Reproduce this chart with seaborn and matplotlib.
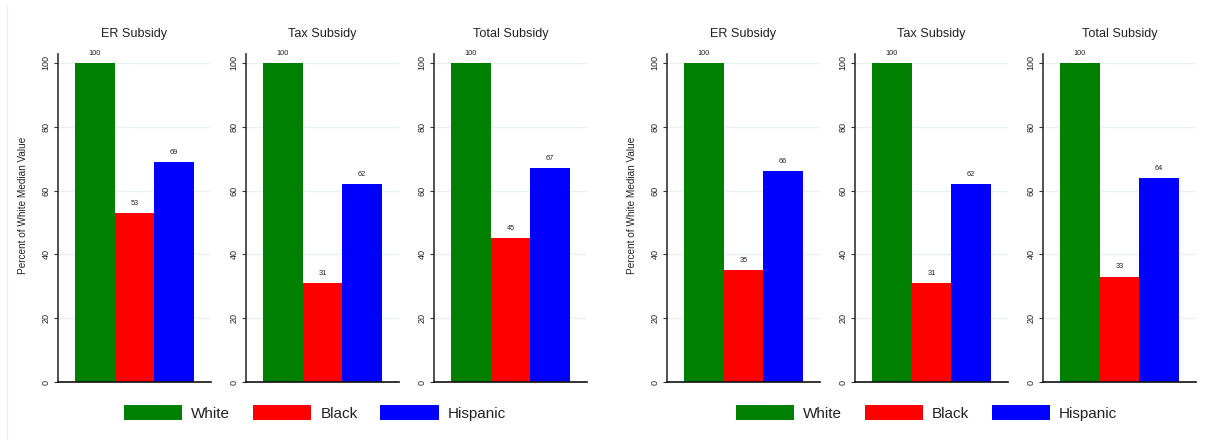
"""
Subsidy value by race, as percent of the White median - two groups of three panels.
"""

import matplotlib
matplotlib.use("Agg")
import matplotlib.pyplot as plt
from matplotlib.patches import Patch
from matplotlib.lines import Line2D
import seaborn as sns

# -- Data --------------------------------------------------------------------
RACES = ["White", "Black", "Hispanic"]
SUBSIDIES = ["ER Subsidy", "Tax Subsidy", "Total Subsidy"]

LEFT_ER = [100, 53, 69]
LEFT_TAX = [100, 31, 62]
LEFT_TOTAL = [100, 45, 67]

RIGHT_ER = [100, 35, 66]
RIGHT_TAX = [100, 31, 62]
RIGHT_TOTAL = [100, 33, 64]

Y_TICKS = [0, 20, 40, 60, 80, 100]
Y_LABEL = "Percent of White Median Value"

# -- Style ---------------------------------------------------------------------
sns.set_style("white")
plt.rcParams["font.family"] = ["Liberation Sans", "DejaVu Sans"]

COLORS = {"White": "#008000", "Black": "#ff0000", "Hispanic": "#0000ff"}
GRID = "#eaf1f2"
TEXT = "#222222"

W, H = 1206, 440
DPI = 100

# panel left edges (px) for each group, panel width / vertical extent in px
LEFT_X = [58, 246, 434]
RIGHT_X = [667, 855, 1043]
PANEL_W = 153
AX_TOP, AX_BOTTOM = 54, 382
Y_MAX = 102.8


def px_rect(x0, w):
    return [x0 / W, (H - AX_BOTTOM) / H, w / W, (AX_BOTTOM - AX_TOP) / H]


def draw_panel(fig, x0, title, values):
    ax = fig.add_axes(px_rect(x0, PANEL_W))
    sns.barplot(x=RACES, y=values, hue=RACES, palette=COLORS, order=RACES,
                width=1.0, linewidth=0, saturation=1, legend=False, ax=ax, zorder=2)
    ax.set_xlim(-0.5 - 17 / 40, 2.5 + 17 / 40)
    ax.set_ylim(0, Y_MAX)
    ax.set_yticks(Y_TICKS)
    ax.set_xticks([])
    ax.set_xlabel("")
    ax.set_ylabel("")
    ax.grid(axis="y", color=GRID, linewidth=1.0, zorder=0)
    ax.set_axisbelow(True)

    for side in ["top", "right"]:
        ax.spines[side].set_visible(False)
    ax.spines["left"].set_color("#333333")
    ax.spines["left"].set_linewidth(1.2)
    ax.spines["bottom"].set_color("#111111")
    ax.spines["bottom"].set_linewidth(1.2)

    ax.tick_params(axis="y", which="major", direction="out", length=3, width=0.8,
                   color="#333333", labelsize=6.5, labelcolor=TEXT, pad=2.5, left=True)
    for lab in ax.get_yticklabels():
        lab.set_rotation(90)
        lab.set_va("center")

    for i, v in enumerate(values):
        ax.annotate(f"{v:.0f}", xy=(i, v), xytext=(0, 4.5), textcoords="offset points",
                    ha="center", va="bottom", fontsize=5.3, color=TEXT)

    ax.set_title(title, fontsize=9.1, color=TEXT, pad=12)
    return ax


def draw_legend(fig, center_px):
    handles = [Patch(facecolor=COLORS[r], edgecolor="none") for r in RACES]
    fig.legend(handles, RACES, loc="center", ncol=3, frameon=False,
               bbox_to_anchor=(center_px / W, (H - 413) / H),
               fontsize=11, handlelength=3.8, handleheight=1.05,
               handletextpad=0.59, columnspacing=1.5,
               labelcolor=TEXT)


def main():
    fig = plt.figure(figsize=(W / DPI, H / DPI), dpi=DPI)

    left_vals = [LEFT_ER, LEFT_TAX, LEFT_TOTAL]
    right_vals = [RIGHT_ER, RIGHT_TAX, RIGHT_TOTAL]

    for xs, vals_list in [(LEFT_X, left_vals), (RIGHT_X, right_vals)]:
        for x0, title, vals in zip(xs, SUBSIDIES, vals_list):
            draw_panel(fig, x0, title, vals)
        fig.text((xs[0] - 35) / W, (H - 205) / H, Y_LABEL, rotation=90,
                 ha="center", va="center", fontsize=7.2, color=TEXT)

    draw_legend(fig, 315)
    draw_legend(fig, 926.5)

    # faint outer border of the original graph region
    fig.add_artist(Line2D([6.5 / W, 6.5 / W], [0, (H - 5) / H], color="#e6eef0",
                          linewidth=1.0, transform=fig.transFigure))

    fig.savefig("out.png", dpi=DPI)
    plt.close(fig)


if __name__ == "__main__":
    main()
